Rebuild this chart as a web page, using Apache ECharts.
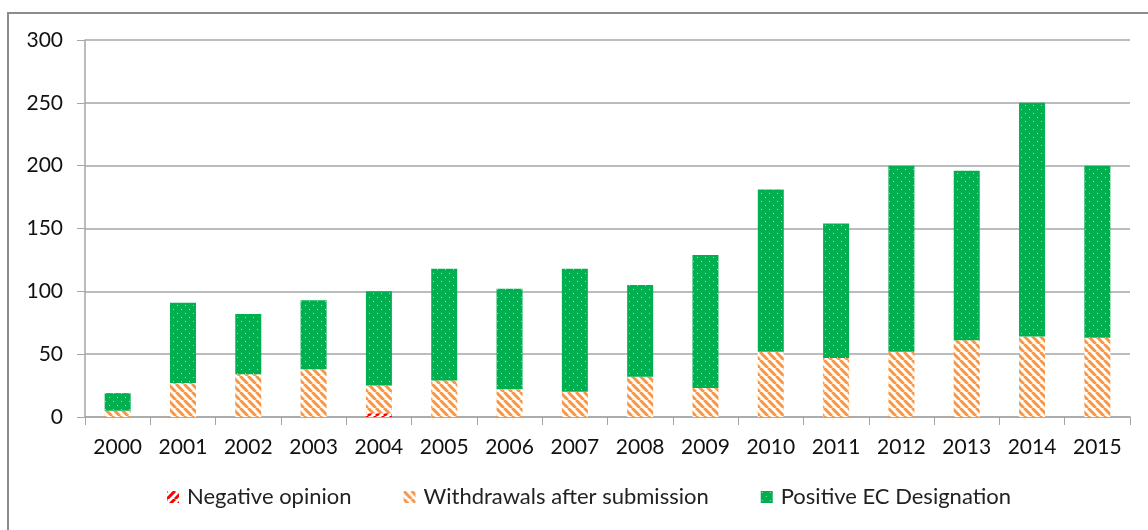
<!DOCTYPE html>
<html>
<head>
<meta charset="utf-8">
<script src="https://cdn.jsdelivr.net/npm/echarts@6/dist/echarts.min.js"></script>
<style>
html, body { margin: 0; padding: 0; background: #fff; }
#main { width: 1148px; height: 530px; }
</style>
</head>
<body>
<div id="main"></div>
<script>
var years = ['2000', '2001', '2002', '2003', '2004', '2005', '2006', '2007',
    '2008', '2009', '2010', '2011', '2012', '2013', '2014', '2015'];
var negativeOpinion = [0, 0, 0, 0, 3, 0, 0, 0, 0, 0, 0, 0, 0, 0, 0, 0];
var withdrawals = [5, 27, 34, 38, 22, 29, 22, 20, 32, 23, 52, 47, 52, 61, 64, 63];
var positiveDesignation = [14, 64, 48, 55, 75, 89, 80, 98, 73, 106, 129, 107, 148, 135, 186, 137];
var yTicks = [0, 50, 100, 150, 200, 250, 300];

// hatch / dot fills like the spreadsheet patterns
function stripes(color, forward) {
    var s = 8;
    var c = document.createElement('canvas');
    c.width = s;
    c.height = s;
    var ctx = c.getContext('2d');
    ctx.fillStyle = '#fff';
    ctx.fillRect(0, 0, s, s);
    ctx.strokeStyle = color;
    ctx.lineWidth = 3;
    for (var k = -1; k <= 1; k++) {
        ctx.beginPath();
        if (forward) {
            ctx.moveTo(k * s, s);
            ctx.lineTo(k * s + s, 0);
        } else {
            ctx.moveTo(k * s, 0);
            ctx.lineTo(k * s + s, s);
        }
        ctx.stroke();
    }
    return { image: c, repeat: 'repeat' };
}

function dots(color) {
    var s = 8;
    var c = document.createElement('canvas');
    c.width = s;
    c.height = s;
    var ctx = c.getContext('2d');
    ctx.fillStyle = color;
    ctx.fillRect(0, 0, s, s);
    ctx.fillStyle = 'rgba(255,255,255,0.6)';
    ctx.fillRect(1, 1, 1, 1);
    ctx.fillRect(5, 5, 1, 1);
    return { image: c, repeat: 'repeat' };
}

var chartDom = document.getElementById('main');
var myChart = echarts.init(chartDom);
var option;

var font = 'Lato, "Open Sans", sans-serif';

option = {
    animation: false,
    textStyle: { fontFamily: font },
    graphic: [{
        type: 'rect',
        z: -1,
        shape: { x: 8, y: 13, width: 1200, height: 600 },
        style: { fill: 'none', stroke: '#8c8c8c', lineWidth: 2 }
    }],
    legend: {
        bottom: 17,
        left: 162,
        icon: 'rect',
        itemWidth: 12,
        itemHeight: 12,
        itemGap: 52,
        textStyle: { fontSize: 22, color: '#222', fontFamily: font, padding: [0, 0, 0, 3] },
        data: ['Negative opinion', 'Withdrawals after submission', 'Positive EC Designation']
    },
    grid: {
        left: 85,
        right: 18,
        top: 40,
        bottom: 113
    },
    xAxis: {
        type: 'category',
        data: years,
        axisLine: { lineStyle: { color: '#a6a6a6', width: 1.5 } },
        axisTick: { show: true, length: 8, lineStyle: { color: '#a6a6a6' } },
        axisLabel: { fontSize: 21, color: '#111', margin: 20, fontFamily: font }
    },
    yAxis: {
        type: 'value',
        min: yTicks[0],
        max: yTicks[yTicks.length - 1],
        interval: 50,
        axisLine: { show: true, lineStyle: { color: '#a6a6a6', width: 1.5 } },
        axisTick: { show: true, length: 8, lineStyle: { color: '#a6a6a6' } },
        axisLabel: { fontSize: 21, color: '#111', margin: 22, fontFamily: font },
        splitLine: { lineStyle: { color: '#a6a6a6', width: 1.5 } }
    },
    series: [{
            name: 'Negative opinion',
            type: 'bar',
            stack: 'total',
            barWidth: 26,
            itemStyle: { color: stripes('#ff0000', true) },
            data: negativeOpinion
        },
        {
            name: 'Withdrawals after submission',
            type: 'bar',
            stack: 'total',
            barWidth: 26,
            itemStyle: { color: stripes('#f79646', false) },
            data: withdrawals
        },
        {
            name: 'Positive EC Designation',
            type: 'bar',
            stack: 'total',
            barWidth: 26,
            itemStyle: { color: dots('#00b050') },
            data: positiveDesignation
        }
    ]
};

option && myChart.setOption(option);
</script>
</body>
</html>
